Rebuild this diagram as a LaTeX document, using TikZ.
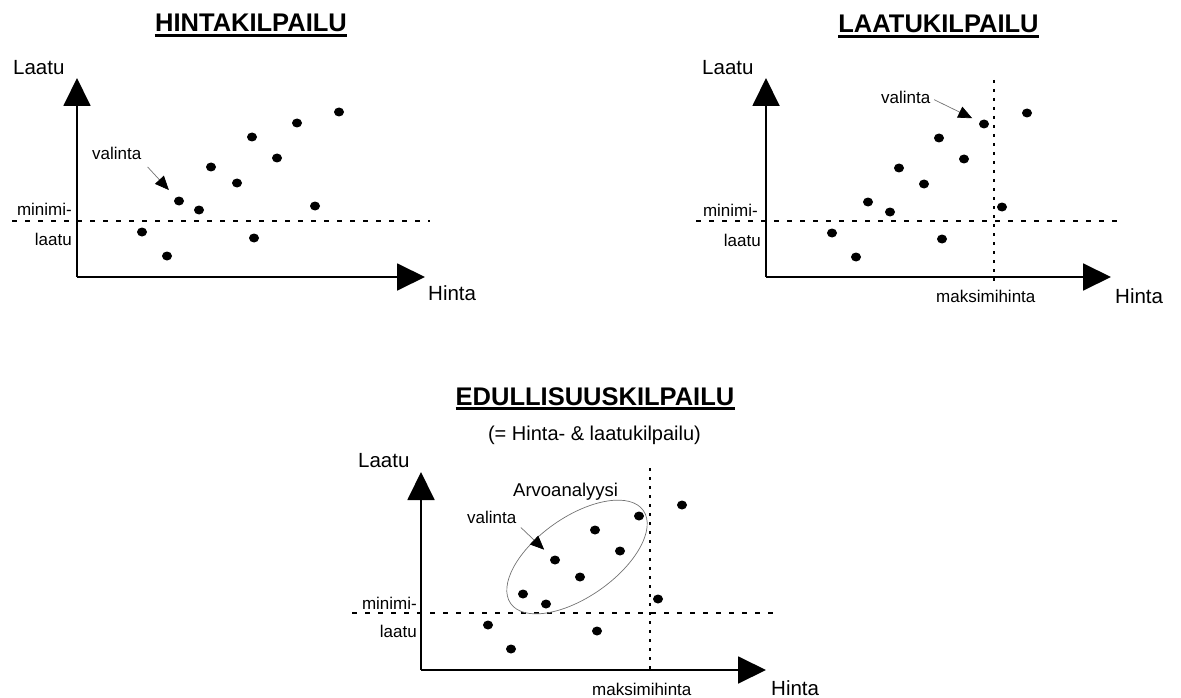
\documentclass[tikz,border=0pt]{standalone}
\usepackage{fontspec}
\setmainfont{Liberation Sans}
\usetikzlibrary{arrows.meta,shapes.geometric}

\begin{document}
\begin{tikzpicture}[x=1pt,y=-1pt,
  axis/.style={line width=1.9pt,-{Triangle[width=27pt,length=28pt]}},
  level/.style={line width=1.8pt,dash pattern=on 5pt off 8pt},
  limit/.style={line width=1.9pt,dash pattern=on 3pt off 6pt},
  dot/.style={ellipse,fill=black,inner sep=0pt,minimum width=10pt,minimum height=9pt},
  pointer/.style={draw=black!55,line width=0.7pt,-{Triangle[width=12pt,length=14pt,color=black]}},
  title/.style={inner sep=0pt,anchor=base,font=\fontsize{25.5}{30}\selectfont\bfseries},
  sub/.style={inner sep=0pt,anchor=base,font=\fontsize{20}{24}\selectfont},
  axlabel/.style={inner sep=0pt,anchor=base west,font=\fontsize{20.5}{24}\selectfont},
  small/.style={inner sep=0pt,font=\fontsize{17}{20}\selectfont},
  uline/.style={line width=2.2pt},
  loop/.style={draw=black!55,line width=0.7pt},
]
\useasboundingbox (0,0) rectangle (1181,698);

% ---------------- HINTAKILPAILU ----------------
\node[title] (t1) at (251,32) {HINTAKILPAILU};
\draw[uline] ([yshift=-3.5pt]t1.base west) -- ([yshift=-3.5pt]t1.base east);
\node[axlabel] (q1) at (13,75) {Laatu};
\node[axlabel] (p1) at (428,300) {Hinta};
\coordinate (o1) at (77,277);
\coordinate (ya1) at (77,78);
\coordinate (xa1) at (425,277);
\coordinate (ml1) at (12,221);
\coordinate (mr1) at (430,221);
\draw[level] (ml1) -- (mr1);
\draw[axis] (o1) -- (ya1);
\draw[axis] (o1) -- (xa1);
\node[small,anchor=base east] (mn1) at (72,215.5) {minimi-};
\node[small,anchor=base east] (lt1) at (72,245) {laatu};
\node[dot] (a1) at (339,112) {};
\node[dot] (a2) at (297,123) {};
\node[dot] (a3) at (252,137) {};
\node[dot] (a4) at (277,158) {};
\node[dot] (a5) at (211,167) {};
\node[dot] (a6) at (237,183) {};
\node[dot] (a7) at (179,201) {};
\node[dot] (a8) at (199,210) {};
\node[dot] (a9) at (315,206) {};
\node[dot] (a10) at (142,232) {};
\node[dot] (a11) at (254,238) {};
\node[dot] (a12) at (167,256) {};
\node[small,anchor=base west] (v1) at (92,160) {valinta};
\draw[pointer,shorten <=9pt,shorten >=10pt] (v1.south east) -- (a7);

% ---------------- LAATUKILPAILU ----------------
\node[title] (t2) at (938.5,33) {LAATUKILPAILU};
\draw[uline] ([yshift=-3.5pt]t2.base west) -- ([yshift=-3.5pt]t2.base east);
\node[axlabel] (q2) at (702,75) {Laatu};
\node[axlabel] (p2) at (1115,303) {Hinta};
\coordinate (o2) at (766,277);
\coordinate (ya2) at (766,78);
\coordinate (xa2) at (1111,277);
\coordinate (ml2) at (696,221);
\coordinate (mr2) at (1123,221);
\coordinate (kt2) at (994,80);
\coordinate (kb2) at (994,282);
\draw[level] (ml2) -- (mr2);
\draw[limit] (kt2) -- (kb2);
\draw[axis] (o2) -- (ya2);
\draw[axis] (o2) -- (xa2);
\node[small,anchor=base east] (mn2) at (758,216) {minimi-};
\node[small,anchor=base east] (lt2) at (761,246) {laatu};
\node[small,anchor=base west] (mx2) at (936,302) {maksimihinta};
\node[dot] (b1) at (1027,113) {};
\node[dot] (b2) at (984,124) {};
\node[dot] (b3) at (939,138) {};
\node[dot] (b4) at (964,159) {};
\node[dot] (b5) at (899,168) {};
\node[dot] (b6) at (924,184) {};
\node[dot] (b7) at (868,202) {};
\node[dot] (b8) at (890,212) {};
\node[dot] (b9) at (1002,207) {};
\node[dot] (b10) at (832,233) {};
\node[dot] (b11) at (942,239) {};
\node[dot] (b12) at (856,257) {};
\node[small,anchor=base west] (v2) at (881,104) {valinta};
\draw[pointer,shorten <=4pt,shorten >=8pt] (v2.east) -- (b2);

% ---------------- EDULLISUUSKILPAILU ----------------
\node[title] (t3) at (595,405) {EDULLISUUSKILPAILU};
\draw[uline] ([yshift=-3.5pt]t3.base west) -- ([yshift=-3.5pt]t3.base east);
\node[sub] (s3) at (594.5,440) {(= Hinta- \& laatukilpailu)};
\node[axlabel] (q3) at (358,467) {Laatu};
\node[axlabel] (p3) at (771,695) {Hinta};
\coordinate (o3) at (421,670);
\coordinate (ya3) at (421,472);
\coordinate (xa3) at (766,670);
\coordinate (ml3) at (352,613);
\coordinate (mr3) at (775,613);
\coordinate (kt3) at (650,468);
\coordinate (kb3) at (650,674);
\draw[level] (ml3) -- (mr3);
\draw[limit] (kt3) -- (kb3);
\draw[axis] (o3) -- (ya3);
\draw[axis] (o3) -- (xa3);
\node[small,anchor=base east] (mn3) at (417,609) {minimi-};
\node[small,anchor=base east] (lt3) at (417,637) {laatu};
\node[small,anchor=base west] (mx3) at (592,695) {maksimihinta};
\draw[loop,rotate around={35:(577,557)}] (577,557) ellipse [x radius=81,y radius=40];
\node[small,anchor=base west,font=\fontsize{18.5}{22}\selectfont] (av3) at (513,496) {Arvoanalyysi};
\node[dot] (c1) at (682,505) {};
\node[dot] (c2) at (639,516) {};
\node[dot] (c3) at (595,530) {};
\node[dot] (c4) at (620,551) {};
\node[dot] (c5) at (555,560) {};
\node[dot] (c6) at (580,577) {};
\node[dot] (c7) at (523,594) {};
\node[dot] (c8) at (546,604) {};
\node[dot] (c9) at (658,599) {};
\node[dot] (c10) at (488,625) {};
\node[dot] (c11) at (597,631) {};
\node[dot] (c12) at (511,649) {};
\node[small,anchor=base west] (v3) at (467,523) {valinta};
\draw[pointer,shorten <=6pt,shorten >=10pt] (v3.south east) -- (c5);
\end{tikzpicture}
\end{document}
